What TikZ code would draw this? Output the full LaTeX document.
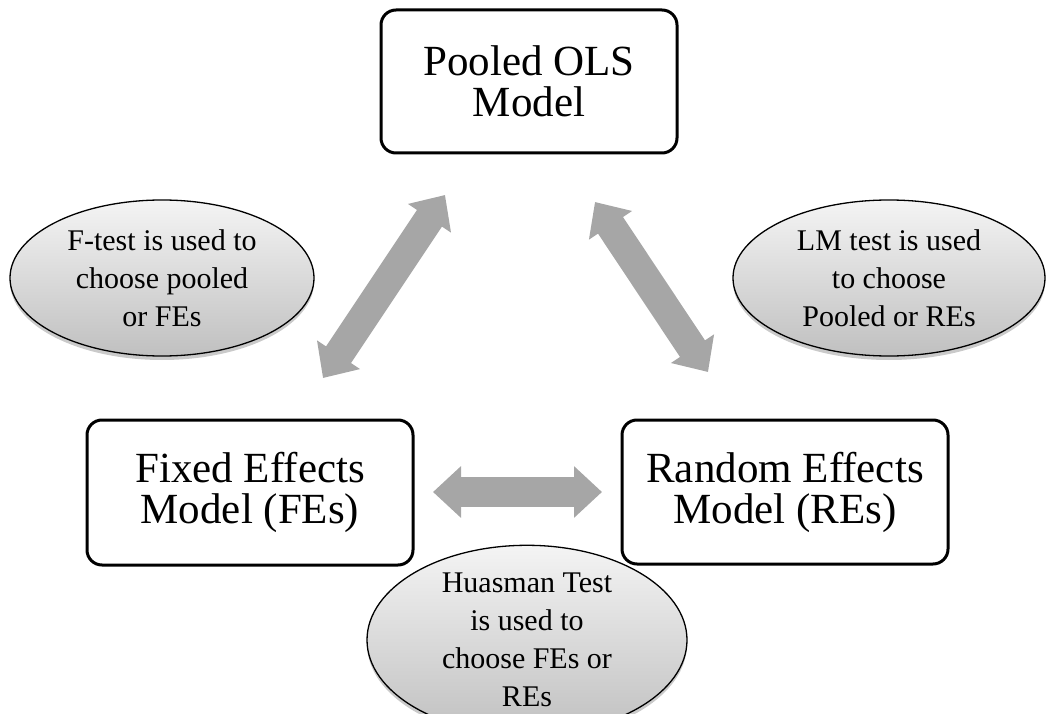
\documentclass[tikz,border=0pt]{standalone}
\usepackage{fontspec}
\setmainfont{Liberation Serif}
\usetikzlibrary{shapes.geometric,arrows.meta,shadows}
\definecolor{arrowgray}{RGB}{166,166,166}
\definecolor{elltop}{RGB}{244,244,244}
\definecolor{ellbot}{RGB}{192,192,192}
\tikzset{
  modelbox/.style={draw=black, line width=3pt, rounded corners=15pt, fill=white,
    inner sep=0pt, align=center, font=\fontsize{43}{41}\selectfont},
  testell/.style={ellipse, draw=black, line width=1.3pt, inner sep=0pt,
    top color=elltop, bottom color=ellbot, align=center,
    font=\fontsize{30}{38}\selectfont,
    drop shadow={shadow xshift=0pt, shadow yshift=-4pt, opacity=0.35, fill=black!60}},
  bigarrow/.style={draw=arrowgray, line width=30pt,
    {Triangle[length=28pt,width=50pt]}-{Triangle[length=28pt,width=50pt]}}
}
\begin{document}
\begin{tikzpicture}[x=1pt,y=-1pt]
\useasboundingbox (0,0) rectangle (1047,714);
% model boxes
\node[modelbox, minimum width=296pt, minimum height=143pt] (pooled) at (529,81.5) {Pooled OLS\\Model};
\node[modelbox, minimum width=326pt, minimum height=145pt] (fixed) at (250,492.5) {Fixed Effects\\Model (FEs)};
\node[modelbox, minimum width=326pt, minimum height=144pt] (random) at (785,492) {Random Effects\\Model (REs)};
% test ellipses
\node[testell, minimum width=304pt, minimum height=156pt] (ftest) at (162,278) {F-test is used to\\choose pooled\\or FEs};
\node[testell, minimum width=312pt, minimum height=156pt] (lmtest) at (889,278) {LM test is used\\to choose\\Pooled or REs};
\node[testell, minimum width=320pt, minimum height=144pt] (htest) at (527,640) {Huasman Test\\is used to\\choose FEs or\\REs};
% arrow end points
\coordinate (la) at (323,378);
\coordinate (lb) at (445,195);
\coordinate (ra) at (595,202);
\coordinate (rb) at (708,372);
\coordinate (ha) at (433,492);
\coordinate (hb) at (602,492);
\draw[bigarrow] (la) -- (lb);
\draw[bigarrow] (ra) -- (rb);
\draw[bigarrow] (ha) -- (hb);
\end{tikzpicture}
\end{document}
